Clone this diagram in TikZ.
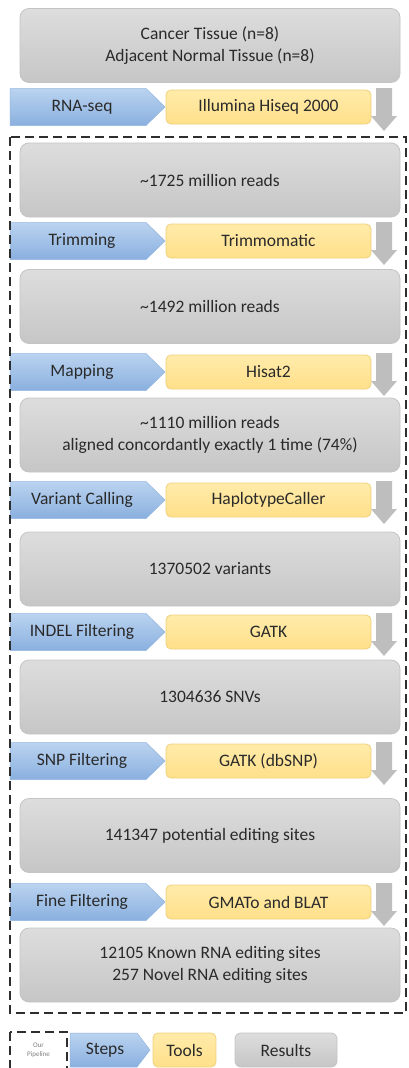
\documentclass[tikz,border=0pt]{standalone}
\usepackage{fontspec}
\setmainfont{Carlito}
\definecolor{txt}{HTML}{2A2A2A}
\definecolor{resTop}{HTML}{DDDDDD}
\definecolor{resBot}{HTML}{C6C6C6}
\definecolor{resLine}{HTML}{C4C4C4}
\definecolor{stepTop}{HTML}{BAD3F0}
\definecolor{stepBot}{HTML}{8AB0DF}
\definecolor{stepLine}{HTML}{93B6E0}
\definecolor{toolTop}{HTML}{FFEBAA}
\definecolor{toolBot}{HTML}{FFE08A}
\definecolor{toolLine}{HTML}{F0D07C}
\definecolor{arrowGray}{HTML}{BEBEBE}
\definecolor{dashCol}{HTML}{2E2E2E}
\tikzset{
  lbl/.style={font=\fontsize{17.5}{22}\selectfont, text=txt, align=center},
  result/.style={lbl, rounded corners=9pt, top color=resTop, bottom color=resBot, draw=resLine, line width=0.8pt, minimum width=380pt, minimum height=74pt, inner sep=0pt},
  tool/.style={lbl, rounded corners=5pt, top color=toolTop, bottom color=toolBot, draw=toolLine, line width=0.8pt, minimum width=205pt, minimum height=34pt, inner sep=0pt},
  stepshape/.style={top color=stepTop, bottom color=stepBot, draw=stepLine, line width=0.5pt},
  downarrow/.style={fill=arrowGray},
  pipeline/.style={draw=dashCol, line width=2.5pt, dash pattern=on 9pt off 5pt},
}
\newcommand{\steprow}[4]{%
  % #1 name, #2 centre y, #3 step text, #4 tool text
  \path[stepshape] (10,#2-18.5) -- (146,#2-18.5) -- (165,#2) -- (146,#2+18.5) -- (10,#2+18.5) -- cycle;
  \node[lbl] (#1s) at (82,#2) {#3};
  \node[tool] (#1t) at (268.5,#2) {#4};
  \path[downarrow] (376,#2-19) -- (392,#2-19) -- (392,#2+9) -- (397,#2+9) -- (384,#2+24) -- (371,#2+9) -- (376,#2+9) -- cycle;
}
\begin{document}
\begin{tikzpicture}[x=1pt,y=-1pt]
\useasboundingbox[fill=white] (0,0) rectangle (408,1068);

\node[result] (b1) at (210,45.5) {Cancer Tissue (n=8)\\Adjacent Normal Tissue (n=8)};
\steprow{r1}{107}{RNA-seq}{Illumina Hiseq 2000}
\node[result] (b2) at (210,180) {\textasciitilde1725 million reads};
\steprow{r2}{241}{Trimming}{Trimmomatic}
\node[result] (b3) at (210,306.5) {\textasciitilde1492 million reads};
\steprow{r3}{372}{Mapping}{Hisat2}
\node[result] (b4) at (210,435) {\textasciitilde1110 million reads\\aligned concordantly exactly 1 time (74\%)};
\steprow{r4}{500}{Variant Calling}{HaplotypeCaller}
\node[result] (b5) at (210,569) {1370502 variants};
\steprow{r5}{632}{INDEL Filtering}{GATK}
\node[result] (b6) at (210,697) {1304636 SNVs};
\steprow{r6}{761}{SNP Filtering}{GATK (dbSNP)}
\node[result] (b7) at (210,835.5) {141347 potential editing sites};
\steprow{r7}{902}{Fine Filtering}{GMATo and BLAT}
\node[result] (b8) at (210,965) {12105 Known RNA editing sites\\257 Novel RNA editing sites};

\draw[pipeline] (10,137) rectangle (406,1013);

% legend
\draw[pipeline] (10,1032) rectangle (67,1074);
\node[font=\fontsize{7}{9}\selectfont, text=gray, align=center] (lp) at (38.5,1050) {Our\\Pipeline};
\path[stepshape] (70,1033) -- (137,1033) -- (150,1050) -- (137,1067) -- (70,1067) -- cycle;
\node[lbl] (ls) at (105,1050) {Steps};
\node[tool, minimum width=63pt] (lt) at (184.5,1050) {Tools};
\node[result, rounded corners=6pt, minimum width=102pt, minimum height=34pt] (lr) at (286,1050) {Results};
\end{tikzpicture}
\end{document}
